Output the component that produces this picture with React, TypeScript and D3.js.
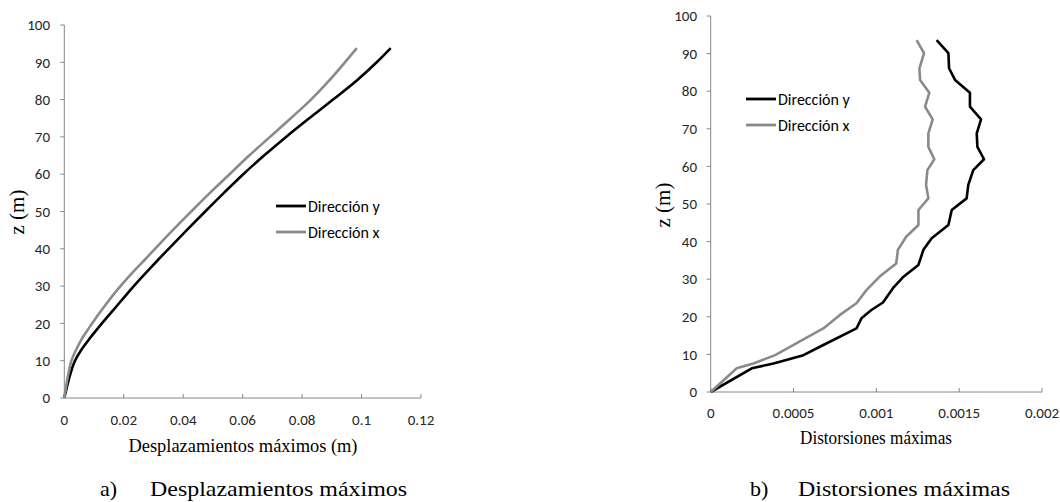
import React from "react";
import * as d3 from "d3";

// ---- Data: left chart (max displacements, m) ----
const dispZY = [0, 3, 6.6, 10, 13, 16, 19, 22, 25, 28, 31, 34, 37, 40, 45, 50, 55, 60, 65, 70, 75, 80, 85, 90, 93.8];
const dispDirY = [0, 0.0009, 0.0021, 0.0036, 0.0058, 0.0086, 0.0116, 0.0148, 0.018, 0.0212, 0.0245, 0.028, 0.0315, 0.0351, 0.0412, 0.0474, 0.0537, 0.0602, 0.0672, 0.0746, 0.0824, 0.0904, 0.0982, 0.1051, 0.1098];
const dispZX = [0, 3, 6.6, 10, 13, 16, 19, 22, 25, 28, 31, 34, 37, 40, 45, 50, 55, 60, 65, 70, 75, 80, 85, 90, 93.8];
const dispDirX = [0, 0.0006, 0.0014, 0.0024, 0.004, 0.006, 0.0085, 0.0111, 0.0139, 0.0168, 0.02, 0.0234, 0.027, 0.0305, 0.0365, 0.0427, 0.049, 0.0556, 0.0622, 0.0692, 0.0762, 0.083, 0.089, 0.0944, 0.0984];

// ---- Data: right chart (max drifts) ----
const driftZY = [0, 6.3, 7.6, 9.8, 12.5, 16.9, 19.6, 21.8, 23.8, 27.6, 30.5, 33.8, 37.8, 40.9, 44.4, 48.4, 51.5, 55.1, 59, 61.9, 65.2, 68.8, 72.5, 75.9, 79.6, 83, 86.1, 90.1, 93.6];
const driftDirY = [0, 0.000248, 0.000379, 0.00056, 0.00068, 0.00088, 0.00091, 0.00097, 0.00104, 0.0011, 0.00116, 0.001254, 0.001284, 0.001334, 0.001435, 0.001455, 0.001545, 0.001555, 0.001585, 0.00165, 0.00161, 0.001606, 0.001632, 0.001565, 0.001565, 0.001475, 0.001439, 0.001435, 0.001364];
const driftZX = [0, 6.3, 7.6, 9.8, 14, 16.9, 20.5, 23.6, 27.1, 30.7, 34.2, 37.8, 41.3, 44.4, 48.4, 51.5, 55.1, 59, 61.9, 65.2, 68.8, 72.5, 75.9, 79.6, 83, 86.1, 90.1, 93.6];
const driftDirX = [0, 0.000157, 0.000258, 0.000389, 0.00056, 0.00068, 0.00078, 0.00088, 0.00094, 0.00102, 0.00112, 0.00113, 0.00118, 0.001254, 0.001254, 0.001314, 0.0013, 0.001308, 0.00135, 0.001314, 0.001314, 0.00134, 0.001294, 0.00132, 0.001264, 0.00126, 0.001288, 0.001243];

// ---- Ticks & labels ----
const zTicks = [0, 10, 20, 30, 40, 50, 60, 70, 80, 90, 100];
const dispTicks = [0, 0.02, 0.04, 0.06, 0.08, 0.1, 0.12];
const driftTicks = [0, 0.0005, 0.001, 0.0015, 0.002];
const seriesNames = ["Dirección y", "Dirección x"];
const seriesColors = ["#000000", "#8a8a8a"];

const SANS = "Carlito";
const SERIF = "Liberation Serif";
const AXIS = "#868686";

type PanelProps = {
  xDomain: [number, number];
  xRange: [number, number];
  yRange: [number, number];
  xTicks: number[];
  series: { xs: number[]; zs: number[]; color: string }[];
  curve: d3.CurveFactory;
  yLabelX: number;
  yTitleX: number;
  yTitleY: number;
  xTitle: string;
  xTitleX: number;
  xTitleY: number;
  xTitleLen: number;
  xTickY: number;
  legendX: number;
  legendY: number;
};

function Panel(p: PanelProps) {
  const x = d3.scaleLinear().domain(p.xDomain).range(p.xRange);
  const y = d3.scaleLinear().domain([0, 100]).range(p.yRange);
  const [x0, x1] = p.xRange;
  const [yb, yt] = p.yRange;
  return (
    <g>
      <line x1={x0} x2={x0} y1={yb} y2={yt} stroke={AXIS} strokeWidth={1} />
      {zTicks.map((t) => (
        <g key={"y" + t}>
          <line x1={x0 - 4} x2={x0} y1={y(t)} y2={y(t)} stroke={AXIS} />
          <text x={p.yLabelX} y={y(t)} dy="0.35em" textAnchor="end" style={{ fontFamily: SANS }} fontSize={15} fill="#262626">
            {t}
          </text>
        </g>
      ))}
      <line x1={x0} x2={x1} y1={yb} y2={yb} stroke={AXIS} strokeWidth={1} />
      {p.xTicks.map((t) => (
        <g key={"x" + t}>
          <line x1={x(t)} x2={x(t)} y1={yb} y2={yb - 4} stroke={AXIS} />
          <text x={x(t)} y={p.xTickY} dy="0.35em" textAnchor="middle" style={{ fontFamily: SANS }} fontSize={15} fill="#262626">
            {String(t)}
          </text>
        </g>
      ))}
      {p.series.map((s, i) => {
        const pts = s.xs.map((v, k) => [v, s.zs[k]] as [number, number]);
        const gen = d3
          .line<[number, number]>()
          .x((d) => x(d[0]))
          .y((d) => y(d[1]))
          .curve(p.curve);
        return <path key={i} d={gen(pts) || ""} fill="none" stroke={s.color} strokeWidth={2.6} strokeLinejoin="round" />;
      })}
      <text
        transform={`translate(${p.yTitleX},${p.yTitleY}) rotate(-90)`}
        textAnchor="middle"
        dy="0.35em"
        style={{ fontFamily: SERIF }}
        fontSize={21}
        fill="#000"
      >
        z (m)
      </text>
      <text
        x={p.xTitleX}
        y={p.xTitleY}
        dy="0.35em"
        textAnchor="middle"
        style={{ fontFamily: SERIF }}
        fontSize={18}
        textLength={p.xTitleLen}
        lengthAdjust="spacingAndGlyphs"
        fill="#000"
      >
        {p.xTitle}
      </text>
      {seriesNames.map((n, i) => (
        <g key={n} transform={`translate(${p.legendX},${p.legendY + i * 26})`}>
          <line x1={0} x2={30} y1={0} y2={0} stroke={seriesColors[i]} strokeWidth={2.8} />
          <text x={32} y={0} dy="0.35em" style={{ fontFamily: SANS }} fontSize={16} fill="#000">
            {n}
          </text>
        </g>
      ))}
    </g>
  );
}

export default function App() {
  return (
    <svg width={1060} height={502} style={{ position: "absolute", left: 0, top: 0, background: "#fff" }}>
      <rect width={1060} height={502} fill="#fff" />
      <Panel
        xDomain={[0, 0.12]}
        xRange={[64.3, 421]}
        yRange={[398, 25]}
        xTicks={dispTicks}
        series={[
          { xs: dispDirY, zs: dispZY, color: seriesColors[0] },
          { xs: dispDirX, zs: dispZX, color: seriesColors[1] },
        ]}
        curve={d3.curveMonotoneY}
        yLabelX={50}
        yTitleX={17}
        yTitleY={212}
        xTitle="Desplazamientos máximos (m)"
        xTitleX={243}
        xTitleY={446}
        xTitleLen={229}
        xTickY={420}
        legendX={276}
        legendY={206}
      />
      <Panel
        xDomain={[0, 0.002]}
        xRange={[710.7, 1042]}
        yRange={[392, 16]}
        xTicks={driftTicks}
        series={[
          { xs: driftDirY, zs: driftZY, color: seriesColors[0] },
          { xs: driftDirX, zs: driftZX, color: seriesColors[1] },
        ]}
        curve={d3.curveLinear}
        yLabelX={697}
        yTitleX={663}
        yTitleY={205}
        xTitle="Distorsiones máximas"
        xTitleX={876}
        xTitleY={438}
        xTitleLen={152}
        xTickY={413}
        legendX={746}
        legendY={99}
      />
      <text x={100} y={488} dy="0.35em" style={{ fontFamily: SERIF }} fontSize={22} fill="#000">a)</text>
      <text x={150} y={488} dy="0.35em" style={{ fontFamily: SERIF }} fontSize={22} textLength={257} lengthAdjust="spacingAndGlyphs" fill="#000">
        Desplazamientos máximos
      </text>
      <text x={750} y={488} dy="0.35em" style={{ fontFamily: SERIF }} fontSize={22} fill="#000">b)</text>
      <text x={798} y={488} dy="0.35em" style={{ fontFamily: SERIF }} fontSize={22} textLength={212} lengthAdjust="spacingAndGlyphs" fill="#000">
        Distorsiones máximas
      </text>
    </svg>
  );
}
